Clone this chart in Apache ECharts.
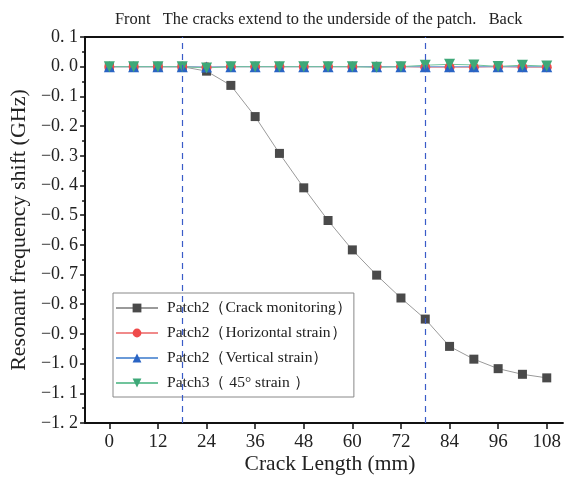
<!DOCTYPE html>
<html>
<head>
<meta charset="utf-8">
<script src="https://cdn.jsdelivr.net/npm/echarts@6/dist/echarts.min.js"></script>
<style>
  html, body { margin: 0; padding: 0; background: #fff; }
  #chart { width: 564px; height: 478px; }
</style>
</head>
<body>
<div id="chart"></div>
<script>
// crack length (mm)
const crackLen = [0, 6, 12, 18, 24, 30, 36, 42, 48, 54, 60, 66, 72, 78, 84, 90, 96, 102, 108];
// resonant frequency shift (GHz)
const crackMon = [0, 0, 0, 0, -0.015, -0.063, -0.168, -0.292, -0.408, -0.518, -0.617, -0.702, -0.779, -0.85, -0.942, -0.985, -1.017, -1.036, -1.048];
const horizStrain = [0, 0, 0, 0, -0.002, 0, 0, 0, 0, 0, 0, 0, 0, -0.002, -0.002, -0.002, 0, -0.002, -0.002];
const vertStrain = [0, 0, 0, 0, -0.001, 0, 0, 0, 0, 0, 0, 0, 0, 0, 0, 0, 0, 0, 0];
const diagStrain = [0, 0, 0, 0, -0.004, 0, 0, 0, 0, 0, 0, -0.002, 0, 0.005, 0.008, 0.006, 0.001, 0.005, 0.002];
const xMajor = [0, 12, 24, 36, 48, 60, 72, 84, 96, 108];
const xMinor = [6, 18, 30, 42, 54, 66, 78, 90, 102];
const cutLines = [18, 78];
const topText = "Front   The cracks extend to the underside of the patch.   Back";

const serif = "'Liberation Serif', 'Times New Roman', serif";

function pairs(ys) {
  return crackLen.map((x, i) => [x, ys[i]]);
}

function fmtY(v) {
  // labels look like "0. 1" / "−0. 1"
  let s = Math.abs(v).toFixed(1).replace(".", ". ");
  if (v < -1e-9) s = "\u2212" + s;
  return s;
}

const chart = echarts.init(document.getElementById("chart"));

const option = {
  animation: false,
  title: {
    text: topText,
    left: 110,
    top: 7,
    textStyle: { fontFamily: serif, fontSize: 16.4, fontWeight: "normal", color: "#222" }
  },
  legend: {
    orient: "vertical",
    left: 113,
    top: 293,
    padding: [7, 2, 6, 2],
    itemGap: 9,
    itemWidth: 42,
    itemHeight: 11,
    borderColor: "#888",
    borderWidth: 1,
    textStyle: { fontFamily: serif, fontSize: 15.6, color: "#222", padding: [0, 0, 0, 4] }
  },
  grid: { left: 85, right: 0, top: 37, bottom: 55 },
  xAxis: [
    {
      type: "value",
      min: -6,
      max: 112,
      axisLine: { onZero: false, lineStyle: { color: "#111", width: 2 } },
      axisTick: { customValues: xMajor, length: 6, lineStyle: { color: "#111", width: 1.5 } },
      axisLabel: {
        customValues: xMajor,
        margin: 10,
        fontFamily: serif,
        fontSize: 19,
        color: "#222"
      },
      splitLine: { show: false }
    },
    {
      type: "value",
      min: -6,
      max: 112,
      position: "bottom",
      axisLine: { show: false },
      axisTick: { customValues: xMinor, length: 3.5, lineStyle: { color: "#111", width: 1.5 } },
      axisLabel: { show: false },
      splitLine: { show: false }
    },
    {
      type: "value",
      min: -6,
      max: 112,
      position: "top",
      axisLine: { lineStyle: { color: "#111", width: 2 } },
      axisTick: { show: false },
      axisLabel: { show: false },
      splitLine: { show: false }
    }
  ],
  yAxis: {
    type: "value",
    min: -1.2,
    max: 0.1,
    interval: 0.1,
    name: "Resonant frequency shift (GHz)",
    nameLocation: "middle",
    nameGap: 48,
    nameTextStyle: { fontFamily: serif, fontSize: 22, color: "#222" },
    axisLine: { show: true, onZero: false, lineStyle: { color: "#111", width: 2 } },
    axisTick: { length: 5, lineStyle: { color: "#111", width: 1.5 } },
    minorTick: { show: true, splitNumber: 2, length: 3, lineStyle: { color: "#111", width: 1.5 } },
    axisLabel: {
      margin: 7,
      fontFamily: serif,
      fontSize: 18,
      color: "#222",
      formatter: fmtY
    },
    splitLine: { show: false }
  },
  graphic: [
    {
      type: "text",
      x: 330,
      y: 453,
      style: { text: "Crack Length (mm)", font: "21.5px " + serif, fill: "#222", align: "center" }
    }
  ],
  series: [
    {
      name: "Patch2（Crack monitoring）",
      type: "line",
      data: pairs(crackMon),
      symbol: "rect",
      symbolSize: 9,
      itemStyle: { color: "#4a4a4a" },
      lineStyle: { color: "#9a9a9a", width: 1 },
      markLine: {
        silent: true,
        symbol: "none",
        label: { show: false },
        lineStyle: { color: "#3a5cc8", type: [6, 5], width: 1.2 },
        data: cutLines.map((v) => ({ xAxis: v }))
      }
    },
    {
      name: "Patch2（Horizontal strain）",
      type: "line",
      data: pairs(horizStrain),
      symbol: "circle",
      symbolSize: 10,
      itemStyle: { color: "#ef4a4a" },
      lineStyle: { color: "#f08a8a", width: 1 }
    },
    {
      name: "Patch2（Vertical strain）",
      type: "line",
      data: pairs(vertStrain),
      symbol: "triangle",
      symbolSize: 11,
      itemStyle: { color: "#2a64c4" },
      lineStyle: { color: "#6a9ad8", width: 1 }
    },
    {
      name: "Patch3（ 45° strain ）",
      type: "line",
      data: pairs(diagStrain),
      symbol: "triangle",
      symbolRotate: 180,
      symbolSize: 11,
      itemStyle: { color: "#3ea878" },
      lineStyle: { color: "#70c49c", width: 1 }
    }
  ]
};

chart.setOption(option);
</script>
</body>
</html>
